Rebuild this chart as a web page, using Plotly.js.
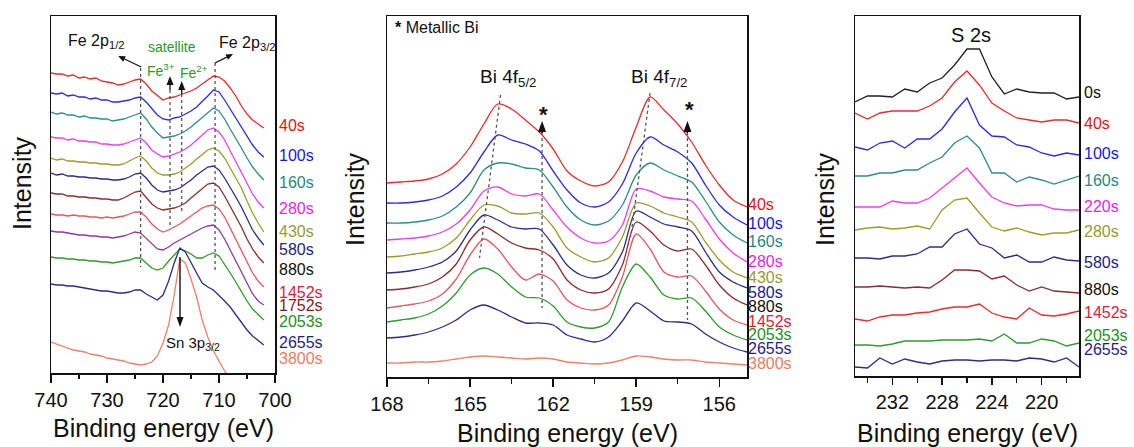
<!DOCTYPE html>
<html><head><meta charset="utf-8">
<script src="https://cdn.plot.ly/plotly-3.0.1.min.js"></script>
<style>html,body{margin:0;padding:0;background:#fff}#chart{width:1134px;height:447px}</style>
</head><body><div id="chart"></div>
<script>
// ---------- Panel 1: Fe 2p ----------
const feE = [740,739,738,737,736,735,734,733,732,731,730,729,728,727,726,725,724,723,722,721,720,719,718,717,716,715,714,713,712,711,710,709,708,707,706,705,704,703,702];
const feLabels = ['40s','100s','160s','280s','430s','580s','880s','1452s','1752s','2053s','2655s','3800s'];
const fe40   = [300,299,299,297,298,295,296,294,295,292,291,290,288,289,291,293,294,289,282,277,273,275,276,278,280,282,285,289,293,297,296,292,285,277,267,259,253,249,245];
const fe100  = [280,279,280,277,278,276,276,274,275,273,273,271,271,272,273,275,276,271,264,258,254,253,255,256,259,262,266,271,277,283,281,273,264,254,245,236,228,221,216];
const fe160  = [261,259,260,258,258,256,257,255,255,254,254,252,253,254,256,258,260,254,246,240,235,236,237,239,242,246,251,256,261,265,262,254,244,235,225,215,206,199,193];
const fe280  = [236,235,235,233,234,232,232,231,231,229,229,228,228,229,231,233,235,230,223,219,216,217,219,221,224,228,233,238,243,245,241,233,222,211,200,189,179,171,165];
const fe430  = [215,213,214,212,212,211,211,210,210,209,209,208,208,209,212,215,217,212,205,200,198,198,199,201,205,209,214,219,223,225,222,215,205,195,185,172,160,150,141];
const fe580  = [200,198,199,197,197,196,196,195,195,194,194,193,193,194,196,199,200,195,188,183,181,182,183,185,189,193,198,202,206,207,203,195,186,176,166,154,143,135,128];
const fe880  = [180,179,179,177,177,176,176,175,175,174,174,173,173,175,178,181,182,176,169,165,163,164,165,167,170,175,180,185,189,190,186,177,167,156,146,134,124,116,110];
const fe1452 = [159,158,158,157,158,157,157,156,156,155,156,155,156,157,159,161,161,156,149,144,141,143,146,149,153,157,161,165,167,168,164,156,145,134,123,111,100,92,86];
const fe1752 = [142,141,141,140,139,138,138,137,137,136,136,135,136,137,139,141,140,135,129,124,123,126,130,133,136,139,142,145,147,148,143,134,123,112,100,89,79,72,68];
const fe2053 = [116,115,115,114,114,113,113,112,112,111,111,110,111,112,113,115,115,110,105,103,105,112,118,124,122,119,115,115,118,120,117,109,100,91,81,72,64,58,53];
const fe2655 = [89,88,88,87,87,86,85,84,83,82,82,81,80,80,81,83,83,79,76,73,78,92,110,125,121,110,100,90,86,83,78,72,66,58,50,43,37,32,28];
const fe3800 = [31,29,27,25,23,22,21,19,18,17,15,14,13,12,10,9,8,9,11,17,30,48,78,114,110,94,76,53,36,22,12,2,-6];
const feSeries = [fe40,fe100,fe160,fe280,fe430,fe580,fe880,fe1452,fe1752,fe2053,fe2655,fe3800];
const feLineColors = ['#ee2a2a','#2a2aee','#2a8f84','#f03cf0','#9c9c2c','#2c2c8c','#8c2c2c','#e85560','#8a3c9c','#2c9c2c','#2c2c8c','#f08068'];
const feLabelColors = ['#ee1111','#1515ee','#1f8a7f','#ee22ee','#999933','#222288','#111111','#e0203a','#8b1a1a','#1f8f1f','#1f1f88','#f07a5f'];

// ---------- Panel 2: Bi 4f ----------
const biE = [168,167.5,167,166.5,166,165.5,165,164.5,164,163.5,163,162.5,162,161.5,161,160.5,160,159.5,159,158.5,158,157.5,157,156.5,156,155.5,155];
const biLabels = ['40s','100s','160s','280s','430s','580s','880s','1452s','2053s','2655s','3800s'];
const bi40   = [194,195,196,198,203,213,230,253,273,268,257,245,228,206,196,191,195,215,250,280,267,253,235,212,192,177,170];
const bi100  = [174,174,175,177,181,190,204,225,242,237,233,226,206,187,174,170,175,193,224,240,232,225,214,192,172,160,152];
const bi160  = [154,154,155,157,161,170,184,207,214,213,209,207,190,170,157,152,156,172,202,214,207,201,195,176,155,142,134];
const bi280  = [137,138,139,141,145,153,167,186,190,183,181,183,167,150,139,134,136,152,188,186,180,178,176,158,138,124,115];
const bi430  = [120,121,123,125,129,139,157,172,171,164,163,164,150,129,120,115,119,140,174,171,164,160,155,135,117,105,99];
const bi580  = [104,105,107,110,115,126,147,162,157,150,148,148,132,112,102,99,104,125,166,160,153,150,146,125,105,95,89];
const bi880  = [87,88,90,93,100,113,137,150,143,134,129,127,118,97,87,84,88,112,155,146,132,126,128,112,92,79,72];
const bi1452 = [69,71,73,76,83,98,122,138,128,110,97,103,96,77,69,67,72,100,143,128,105,100,101,86,68,57,52];
const bi2053 = [55,57,59,63,71,84,102,109,103,90,80,79,71,55,50,49,55,90,113,100,82,78,79,66,50,42,37];
const bi2655 = [39,40,42,45,50,57,67,72,67,60,54,54,52,42,38,35,40,56,74,66,56,55,53,43,35,29,25];
const bi3800 = [14,14,15,15,16,18,20,21,20,19,18,19,18,15,14,13,14,17,21,20,18,17,17,15,14,13,12];
const biSeries = [bi40,bi100,bi160,bi280,bi430,bi580,bi880,bi1452,bi2053,bi2655,bi3800];
const biLineColors = ['#ee2a2a','#2a2aee','#2a8f84','#f03cf0','#9c9c2c','#2c2c8c','#8c2c2c','#e85560','#2c9c2c','#2c2c8c','#f08068'];
const biLabelColors = ['#ee1111','#1515ee','#1f8a7f','#ee22ee','#999933','#222288','#111111','#e0203a','#1f8f1f','#1f1f88','#f07a5f'];

// ---------- Panel 3: S 2s ----------
const sE = [235,234,233,232,231,230,229,228,227,226,225,224,223,222,221,220,219,218,217];
const sLabels = ['0s','40s','100s','160s','220s','280s','580s','880s','1452s','2053s','2655s'];
const s0    = [274,280,280,279,287,284,293,298,311,327,327,299,282,287,284,283,283,277,279];
const s40   = [263,257,263,265,265,265,270,278,294,305,291,273,265,258,256,254,256,256,253];
const s100  = [229,226,233,235,228,237,237,247,264,278,251,240,239,231,229,223,220,223,221];
const s160  = [200,200,203,203,206,206,213,219,233,240,228,203,203,194,199,196,192,196,200];
const s220  = [169,169,169,175,173,173,178,188,198,208,193,179,173,170,171,171,167,166,166];
const s280  = [146,148,149,147,148,150,147,166,176,178,163,149,145,148,144,141,143,143,146];
const s580  = [118,118,117,120,120,122,129,129,142,147,132,128,118,121,114,114,119,116,115];
const s880  = [89,89,90,89,88,89,88,96,106,106,105,97,100,91,85,89,85,84,83];
const s1452 = [57,55,59,61,61,63,64,67,69,69,72,63,59,57,68,61,60,62,65];
const s2053 = [31,31,30,32,35,35,35,36,36,36,37,35,42,33,33,37,35,30,33];
const s2655 = [9,8,18,12,17,14,12,15,16,16,15,16,16,15,18,17,14,18,9];
const sSeries = [s0,s40,s100,s160,s220,s280,s580,s880,s1452,s2053,s2655];
const sLineColors = ['#222222','#ee2a2a','#2a2aee','#2a8f84','#f03cf0','#9c9c2c','#2c2c8c','#8c2c2c','#ee2a2a','#2c9c2c','#2c2c8c'];
const sLabelColors = ['#111111','#ee1111','#1515ee','#1f8a7f','#ee22ee','#999933','#222288','#111111','#e0203a','#1f8f1f','#1f1f88'];

// ---------- build ----------
const W = 1134, H = 447;
const px = v => v / W, py = v => 1 - v / H;
const FONT = '"Liberation Sans", Arial, "DejaVu Sans", sans-serif';

const traces = [];
feSeries.forEach((ys, i) => traces.push({x: feE.slice(0, ys.length), y: ys, xaxis: 'x', yaxis: 'y', mode: 'lines',
  line: {color: feLineColors[i], width: 1.3}, name: feLabels[i], hoverinfo: 'skip'}));
biSeries.forEach((ys, i) => traces.push({x: biE, y: ys, xaxis: 'x2', yaxis: 'y2', mode: 'lines',
  line: {color: biLineColors[i], width: 1.3, shape: 'spline', smoothing: 0.8}, name: biLabels[i], hoverinfo: 'skip'}));
sSeries.forEach((ys, i) => traces.push({x: sE, y: ys, xaxis: 'x3', yaxis: 'y3', mode: 'lines',
  line: {color: sLineColors[i], width: 1.3}, name: sLabels[i], hoverinfo: 'skip'}));

const xBase = {showline: true, mirror: true, linecolor: '#111', linewidth: 1.5, showgrid: false, zeroline: false,
  ticks: 'outside', ticklen: 8, tickwidth: 1.5, tickcolor: '#111', tickfont: {size: 20, color: '#111', family: FONT}};
const yBase = {showline: true, mirror: true, linecolor: '#111', linewidth: 1.5, showgrid: false, zeroline: false,
  ticks: '', showticklabels: false};

const labelAnn = (txt, x, y, color) => ({text: txt, x: px(x), y: py(y), xref: 'paper', yref: 'paper',
  xanchor: 'left', yanchor: 'middle', showarrow: false, font: {size: 16, color: color, family: FONT}});
const textAnn = (txt, x, y, size, color, extra) => Object.assign({text: txt, x: px(x), y: py(y), xref: 'paper', yref: 'paper',
  xanchor: 'center', yanchor: 'middle', showarrow: false, font: {size: size, color: color || '#111', family: FONT}}, extra || {});

const annotations = [];
feLabels.forEach((t, i) => annotations.push(labelAnn(t, 277, [125,155,183,209,231,249,269,292,305,321,342,358][i], feLabelColors[i])));
biLabels.forEach((t, i) => annotations.push(labelAnn(t, 746, [204,223,242,261,277,292,306,321,334,348,363][i], biLabelColors[i])));
sLabels.forEach((t, i) => annotations.push(labelAnn(t, 1082, [92,124,153,180,206,232,262,289,312,335,349][i], sLabelColors[i])));

// axis titles
[[163, 428], [567, 433], [967, 433]].forEach(p => annotations.push(textAnn('Binding energy (eV)', p[0], p[1], 25)));
[[22, 183], [355, 199], [825, 199]].forEach(p => annotations.push(textAnn('Intensity', p[0], p[1], 25, '#111', {textangle: -90})));

// panel 1 texts
annotations.push(textAnn('Fe 2p<sub>1/2</sub>', 96, 41, 16));
annotations.push(textAnn('Fe 2p<sub>3/2</sub>', 247, 43, 16));
annotations.push(textAnn('satellite', 172, 47, 14, '#2a9a2a'));
annotations.push(textAnn('Fe<sup>3+</sup>', 161, 70, 14, '#2a9a2a'));
annotations.push(textAnn('Fe<sup>2+</sup>', 194, 72, 14, '#2a9a2a'));
annotations.push(textAnn('Sn 3p<sub>3/2</sub>', 193, 343, 15));

// panel 2 texts
annotations.push(textAnn('<b>*</b> Metallic Bi', 393, 27, 16, '#111', {xanchor: 'left'}));
annotations.push(textAnn('Bi 4f<sub>5/2</sub>', 508, 78, 19));
annotations.push(textAnn('Bi 4f<sub>7/2</sub>', 659, 78, 19));
annotations.push(textAnn('<b>*</b>', 543, 114, 22));
annotations.push(textAnn('<b>*</b>', 689, 110, 22));

// panel 3 text
annotations.push(textAnn('S 2s', 971, 35, 20));

const dot = (xr, yr, x0, y0, x1, y1) => ({type: 'line', xref: xr, yref: yr, x0: x0, y0: y0, x1: x1, y1: y1,
  line: {color: '#555', width: 1.3, dash: 'dot'}});
const shapes = [
  dot('x', 'y', 724, 305, 724, 106),
  dot('x', 'y', 718.75, 283, 718.75, 146),
  dot('x', 'y', 716.66, 279, 716.66, 159),
  dot('x', 'y', 710.7, 310, 710.7, 102),
  dot('x2', 'y2', 163.9, 282, 164.66, 119),
  dot('x2', 'y2', 162.4, 245, 162.4, 69),
  dot('x2', 'y2', 158.5, 284, 159.2, 140),
  dot('x2', 'y2', 157.15, 245, 157.15, 57)
];

// arrows drawn as shapes: head at data (x,y); tail offset (dx,dy) in screen px; kx = data units per px to the right
function arrow(xr, yr, kx, x, y, dx, dy, hl, hw, w) {
  const len = Math.hypot(dx, dy), ux = -dx / len, uy = -dy / len;
  const D = (ox, oy) => [x + ox * kx, y - oy];
  const tail = D(dx, dy), base = D(-ux * hl, -uy * hl);
  const c1 = D(-ux * hl - uy * hw / 2, -uy * hl + ux * hw / 2);
  const c2 = D(-ux * hl + uy * hw / 2, -uy * hl - ux * hw / 2);
  shapes.push({type: 'line', xref: xr, yref: yr, x0: tail[0], y0: tail[1], x1: base[0], y1: base[1],
    line: {color: '#111', width: w}});
  shapes.push({type: 'path', xref: xr, yref: yr, fillcolor: '#111', line: {width: 0},
    path: `M ${x} ${y} L ${c1[0]} ${c1[1]} L ${c2[0]} ${c2[1]} Z`});
}
const k1 = -40 / 224, k2 = -13 / 360;
arrow('x', 'y', k1, 728.0, 317, 23, 11, 7, 6, 1.2);
arrow('x', 'y', k1, 707.5, 319, -18, 9, 7, 6, 1.2);
arrow('x', 'y', k1, 718.75, 297, 0, 14, 9, 7, 1.3);
arrow('x', 'y', k1, 716.66, 292, 0, 13, 9, 7, 1.3);
arrow('x', 'y', k1, 716.96, 46, 0, -70, 10, 7, 1.4);
arrow('x2', 'y2', k2, 162.4, 256, 0, 12, 11, 8, 1.3);
arrow('x2', 'y2', k2, 157.15, 256, 0, 12, 11, 8, 1.3);

const layout = {
  width: W, height: H, margin: {l: 0, r: 0, t: 0, b: 0}, showlegend: false,
  paper_bgcolor: '#fff', plot_bgcolor: '#fff', font: {family: FONT, color: '#111'},
  xaxis: Object.assign({}, xBase, {domain: [51/W, 275/W], range: [740, 700], anchor: 'y', dtick: 10, tick0: 700,
    minor: {dtick: 5, ticklen: 4, tickwidth: 1.2, ticks: 'outside', tickcolor: '#111'}}),
  yaxis: Object.assign({}, yBase, {domain: [1 - 373/H, 1 - 16/H], range: [0, 357], anchor: 'x'}),
  xaxis2: Object.assign({}, xBase, {domain: [387/W, 747/W], range: [168, 155], anchor: 'y2', dtick: 3, tick0: 156,
    minor: {dtick: 1.5, ticklen: 5, tickwidth: 1.2, ticks: 'outside', tickcolor: '#111'}}),
  yaxis2: Object.assign({}, yBase, {domain: [1 - 377/H, 1 - 16/H], range: [0, 361], anchor: 'x2'}),
  xaxis3: Object.assign({}, xBase, {domain: [855/W, 1079/W], range: [235, 217], anchor: 'y3', dtick: 4, tick0: 220, ticklen: 7,
    minor: {dtick: 2, ticklen: 5, tickwidth: 1.2, ticks: 'outside', tickcolor: '#111'}}),
  yaxis3: Object.assign({}, yBase, {domain: [1 - 376/H, 1 - 16/H], range: [0, 360], anchor: 'x3'}),
  annotations: annotations, shapes: shapes
};

Plotly.newPlot('chart', traces, layout, {staticPlot: true, displayModeBar: false});
</script></body></html>
